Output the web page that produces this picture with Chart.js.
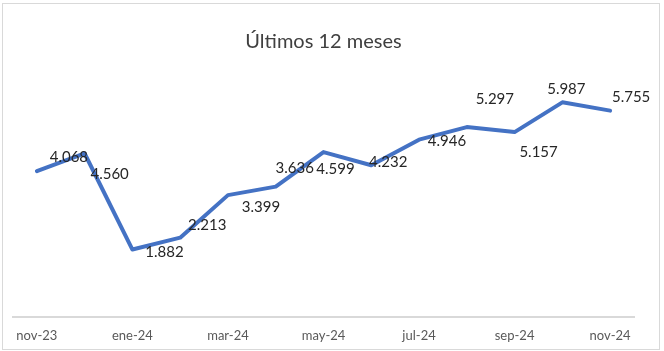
<!DOCTYPE html>
<html>
<head>
<meta charset="utf-8">
<script src="https://cdn.jsdelivr.net/npm/chart.js@4"></script>
<style>
  html, body { margin: 0; padding: 0; background: #fff; }
  #wrap { width: 664px; height: 351px; }
</style>
</head>
<body>
<div id="wrap"><canvas id="ventasChart"></canvas></div>
<script>
// months shown on the x axis (every other one is labelled)
const months = ['nov-23', 'dic-23', 'ene-24', 'feb-24', 'mar-24', 'abr-24', 'may-24',
                'jun-24', 'jul-24', 'ago-24', 'sep-24', 'oct-24', 'nov-24'];
const values = [4068, 4560, 1882, 2213, 3399, 3636, 4599, 4232, 4946, 5297, 5157, 5987, 5755];
const yMin = 0;
const yMax = 7000;

// where each data label sits relative to its point (px)
const labelShift = [[32, -14], [25, 21], [32, 3], [27, -12], [33, 12], [19, -18], [12, 17],
                    [17, -3], [28, 2], [28, -28], [24, 20], [4, -13], [21, -13]];

const fmt = v => v.toLocaleString('de-DE');

// outer frame like the Excel chart border
const framePlugin = {
    id: 'frame',
    beforeDraw(chart) {
        const ctx = chart.ctx;
        ctx.save();
        ctx.fillStyle = '#ffffff';
        ctx.fillRect(0, 0, chart.width, chart.height);
        ctx.strokeStyle = '#d9d9d9';
        ctx.lineWidth = 1;
        ctx.strokeRect(2.5, 3.5, 657, 346);
        ctx.restore();
    }
};

// value labels next to each point
const valueLabels = {
    id: 'valueLabels',
    afterDatasetsDraw(chart) {
        const ctx = chart.ctx;
        const meta = chart.getDatasetMeta(0);
        ctx.save();
        ctx.font = '15px Lato';
        ctx.fillStyle = '#262626';
        ctx.textAlign = 'center';
        ctx.textBaseline = 'middle';
        meta.data.forEach((pt, i) => {
            const [dx, dy] = labelShift[i];
            ctx.fillText(fmt(values[i]), pt.x + dx, pt.y + dy);
        });
        ctx.restore();
    }
};

const ctx = document.getElementById('ventasChart').getContext('2d');
new Chart(ctx, {
    type: 'line',
    data: {
        labels: months,
        datasets: [{
            data: values,
            borderColor: '#4472C4',
            borderWidth: 4,
            borderJoinStyle: 'round',
            borderCapStyle: 'round',
            pointRadius: 0,
            fill: false,
            tension: 0
        }]
    },
    options: {
        responsive: true,
        maintainAspectRatio: false,
        animation: false,
        layout: { padding: { left: 13, right: 30, top: 30, bottom: 3 } },
        scales: {
            x: {
                offset: true,
                grid: { display: false, drawTicks: false },
                border: { display: true, color: '#d9d9d9', width: 2 },
                afterFit: scale => { scale.height = 31; },
                ticks: {
                    autoSkip: false,
                    maxRotation: 0,
                    padding: 11,
                    color: '#595959',
                    font: { family: 'Lato', size: 13 },
                    callback: (val, i) => (i % 2 === 0 ? months[i] : '')
                }
            },
            y: { display: false, min: yMin, max: yMax }
        },
        plugins: {
            legend: { display: false },
            tooltip: { enabled: false },
            title: {
                display: true,
                text: 'Últimos 12 meses',
                color: '#404040',
                font: { family: 'Lato', size: 20, weight: 'normal' },
                padding: { top: 0, bottom: 12 }
            }
        }
    },
    plugins: [framePlugin, valueLabels]
});
</script>
</body>
</html>
